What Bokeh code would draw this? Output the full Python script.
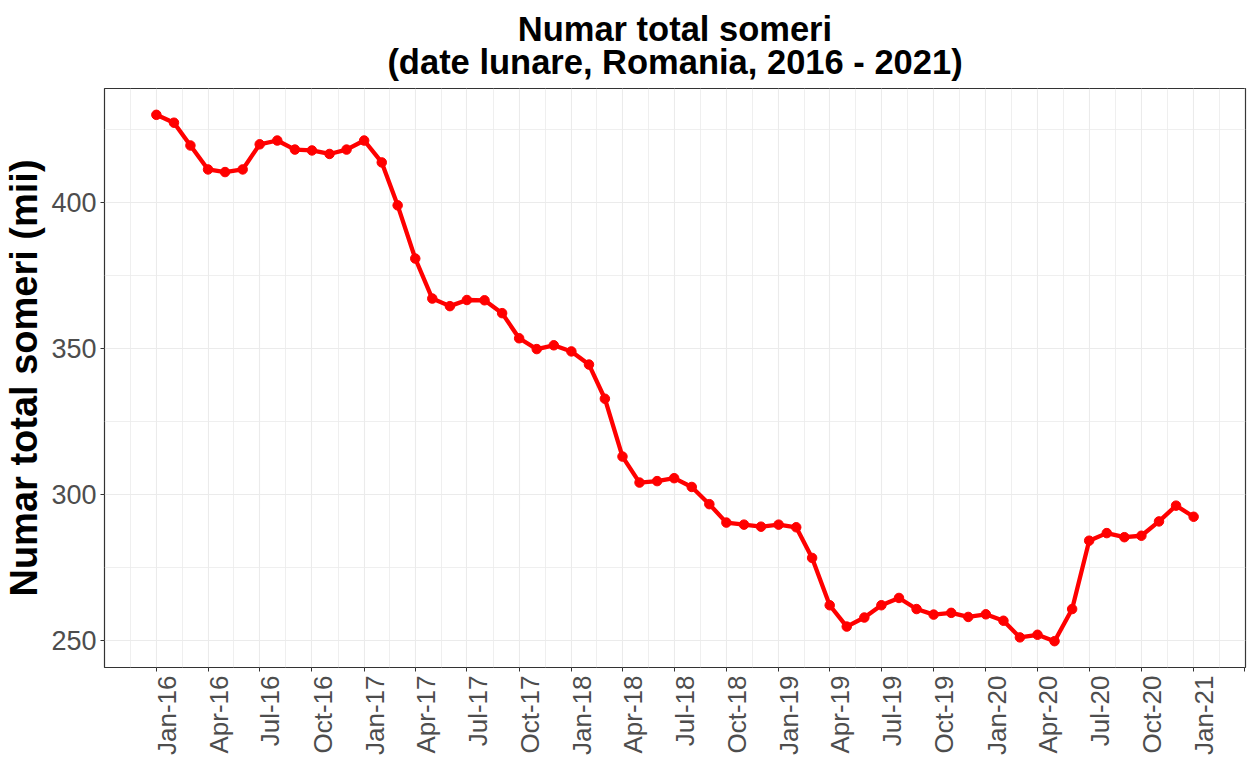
import math
from datetime import datetime

from bokeh.plotting import figure
from bokeh.models import (Range1d, FixedTicker, DatetimeTickFormatter, Title,
                          ColumnDataSource)
from bokeh.embed import file_html
from bokeh.resources import INLINE

# ---------------- data ----------------
months = [f"{y}-{m:02d}" for y in range(2016, 2021) for m in range(1, 13)] + ["2021-01"]
someri = [430.0, 427.3, 419.5, 411.3, 410.4, 411.3, 419.9, 421.2, 418.1, 417.8, 416.6, 418.1,
          421.2, 413.7, 399.0, 380.8, 367.1, 364.5, 366.6, 366.5, 362.1, 353.5, 349.8, 351.1,
          349.0, 344.5, 332.8, 313.0, 304.1, 304.6, 305.6, 302.6, 296.7, 290.4, 289.7, 289.0,
          289.7, 288.8, 278.3, 262.1, 254.8, 257.9, 262.1, 264.6, 260.8, 258.9, 259.5, 258.1,
          259.0, 256.8, 251.1, 252.0, 249.8, 260.8, 284.2, 286.8, 285.4, 285.9, 290.8, 296.2,
          292.4]
tick_months = ["2015-10"] + [f"{y}-{m:02d}" for y in range(2016, 2022) for m in (1, 4, 7, 10)][:22]
y_ticks = [250, 300, 350, 400]
y_minor = [275, 325, 375, 425]

title1 = "Numar total someri"
title2 = "(date lunare, Romania, 2016 - 2021)"
ylabel = "Numar total someri (mii)"

FONT = "Liberation Sans"
EPOCH = datetime(1970, 1, 1)


def to_dt(s):
    return datetime.strptime(s, "%Y-%m")


def ms(dt):
    return (dt - EPOCH).total_seconds() * 1000.0


xs = [to_dt(m) for m in months]
src = ColumnDataSource(dict(x=xs, y=someri))

# ggplot-like 5% expansion
x0, x1 = ms(xs[0]), ms(xs[-1])
xpad = 0.05 * (x1 - x0)
y0, y1 = min(someri), max(someri)
ypad = 0.05 * (y1 - y0)

tick_ms_all = [ms(to_dt(t)) for t in tick_months]
major_ms = [t for t in tick_ms_all if x0 - xpad <= t <= x1 + xpad]
minor_ms = [(a + b) / 2 for a, b in zip(tick_ms_all[:-1], tick_ms_all[1:])]
# labels sit a little to the right of their tick (as in the reference)
label_shift = 19 * 24 * 3600 * 1000.0
label_ms = [t + label_shift for t in major_ms]

p = figure(frame_width=1141, frame_height=579, x_axis_type="datetime",
           x_range=Range1d(x0 - xpad, x1 + xpad),
           y_range=Range1d(y0 - ypad, y1 + ypad),
           output_backend="svg", toolbar_location=None,
           min_border_left=98, min_border_right=3, min_border_top=80, min_border_bottom=86)

p.background_fill_color = "white"
p.border_fill_color = "white"
p.outline_line_color = "#333333"
p.outline_line_width = 1.2

# two-line title; the lines of a Bokeh title are left-aligned inside the centred box,
# so the short first line is indented with fixed-width spaces to appear centred
indent = "\u2002" * 7 + "\u00a0"
p.title = Title(text=indent + title1 + "\n" + title2, align="center", text_font=FONT,
                text_font_size="34.5px", text_font_style="bold", text_color="black",
                text_line_height=0.883, standoff=14)

# x axis: labels at shifted positions, tick marks drawn as "minor" ticks at the true dates
xa = p.xaxis[0]
xa.ticker = FixedTicker(ticks=label_ms, minor_ticks=major_ms)
xa.formatter = DatetimeTickFormatter(days="%b-%y", months="%b-%y", years="%b-%y")
xa.major_label_orientation = math.pi / 2
xa.major_label_standoff = 4
xa.major_tick_line_color = None
xa.major_tick_out = 4
xa.major_tick_in = 0
xa.minor_tick_out = 4
xa.minor_tick_in = 0
xa.minor_tick_line_color = "#333333"
xa.minor_tick_line_width = 1
xa.axis_line_color = None
xa.major_label_text_font = FONT
xa.major_label_text_font_size = "26px"
xa.major_label_text_color = "#4D4D4D"

# y axis
ya = p.yaxis[0]
ya.ticker = FixedTicker(ticks=y_ticks, minor_ticks=y_minor)
ya.major_tick_out = 4
ya.major_tick_in = 0
ya.major_tick_line_color = "#333333"
ya.minor_tick_line_color = None
ya.axis_line_color = None
ya.major_label_standoff = 4
ya.major_label_text_font = FONT
ya.major_label_text_font_size = "27px"
ya.major_label_text_color = "#4D4D4D"
ya.axis_label = ylabel
ya.axis_label_text_font = FONT
ya.axis_label_text_font_size = "38px"
ya.axis_label_text_font_style = "bold"
ya.axis_label_text_color = "black"
ya.axis_label_standoff = 3

# grids at the true tick dates
p.xgrid.ticker = FixedTicker(ticks=major_ms, minor_ticks=minor_ms)
p.ygrid.ticker = FixedTicker(ticks=y_ticks, minor_ticks=y_minor)
for g in (p.xgrid[0], p.ygrid[0]):
    g.grid_line_color = "#EBEBEB"
    g.grid_line_width = 1.1
    g.minor_grid_line_color = "#EBEBEB"
    g.minor_grid_line_width = 0.8

# data
p.line("x", "y", source=src, line_color="#FF0000", line_width=4.3)
p.scatter("x", "y", source=src, size=9.5, color="#FF0000")

open("out.html", "w").write(file_html(p, INLINE))
